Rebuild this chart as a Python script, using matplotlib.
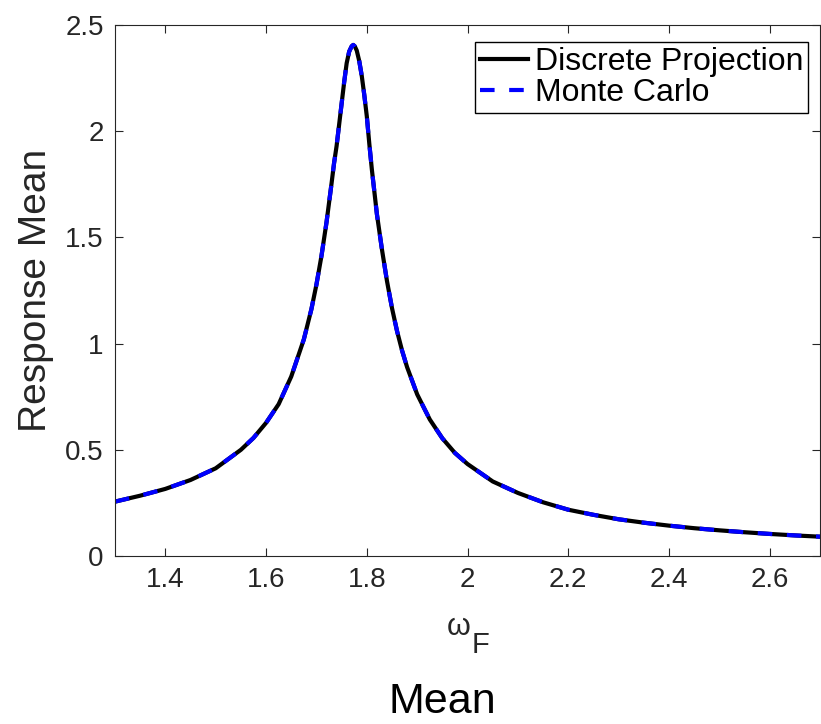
import numpy as np
import matplotlib.pyplot as plt

plt.rcParams['font.family'] = ['Liberation Sans', 'DejaVu Sans']

# values
omega_f = [1.30, 1.35, 1.40, 1.45, 1.50, 1.55, 1.575, 1.60, 1.625, 1.65,
           1.675, 1.69, 1.70, 1.71, 1.72, 1.73, 1.735, 1.74, 1.745, 1.75,
           1.755, 1.76, 1.765, 1.77, 1.773, 1.776, 1.78, 1.785, 1.79, 1.795,
           1.80, 1.805, 1.81, 1.82, 1.83, 1.84, 1.85, 1.86, 1.87, 1.88,
           1.90, 1.925, 1.95, 1.975, 2.00, 2.05, 2.10, 2.15, 2.20, 2.25,
           2.30, 2.35, 2.40, 2.45, 2.50, 2.55, 2.60, 2.65, 2.70]
resp_dp = [0.256, 0.284, 0.316, 0.358, 0.413, 0.500, 0.556, 0.627, 0.715, 0.845,
           1.020, 1.162, 1.278, 1.413, 1.571, 1.754, 1.850, 1.930, 2.030, 2.130,
           2.230, 2.320, 2.375, 2.400, 2.406, 2.400, 2.380, 2.330, 2.260, 2.170,
           2.070, 1.940, 1.820, 1.610, 1.444, 1.295, 1.167, 1.059, 0.967, 0.889,
           0.761, 0.643, 0.554, 0.485, 0.433, 0.351, 0.297, 0.253, 0.218, 0.194,
           0.173, 0.157, 0.143, 0.131, 0.121, 0.112, 0.104, 0.097, 0.091]
resp_mc = list(resp_dp)  # Monte Carlo lies on top of the projection curve

xticks = [1.4, 1.6, 1.8, 2.0, 2.2, 2.4, 2.6]
xtick_labels = ['1.4', '1.6', '1.8', '2', '2.2', '2.4', '2.6']
yticks = [0, 0.5, 1, 1.5, 2, 2.5]
ytick_labels = ['0', '0.5', '1', '1.5', '2', '2.5']

fig = plt.figure(figsize=(8.21, 7.24), dpi=100)
ax = fig.add_axes([0.140, 0.232, 0.859, 0.7335])

ax.plot(omega_f, resp_dp, color='black', lw=3, label='Discrete Projection')
ax.plot(omega_f, resp_mc, color='blue', lw=3, dashes=(3.5, 3.5),
        label='Monte Carlo')

ax.set_xlim(1.3, 2.7)
ax.set_ylim(0, 2.5)
ax.set_xticks(xticks)
ax.set_xticklabels(xtick_labels)
ax.set_yticks(yticks)
ax.set_yticklabels(ytick_labels)

grey = '#262626'
for s in ax.spines.values():
    s.set_color(grey)
    s.set_linewidth(0.8)
ax.tick_params(direction='in', length=5.5, width=0.8, color=grey,
               labelcolor=grey, labelsize=20, top=True, right=True, pad=8)

ax.set_ylabel('Response Mean', fontsize=28, color=grey, labelpad=8)

# x label: omega with a same-size subscript F, placed like the reference
fig.text(447 / 821, 1 - 635 / 724, 'ω', fontsize=22, color=grey,
         ha='left', va='baseline')
fig.text(472 / 821, 1 - 653 / 724, 'F', fontsize=21, color=grey,
         ha='left', va='baseline')

leg = ax.legend(loc='upper right', bbox_to_anchor=(0.9825, 0.968),
                fontsize=23, handlelength=1.5, handletextpad=0.2,
                borderpad=0.15, labelspacing=0.05, borderaxespad=0,
                fancybox=False, framealpha=1)
leg.get_frame().set_edgecolor('black')
leg.get_frame().set_linewidth(1.0)

fig.text(442 / 821, 1 - 713 / 724, 'Mean', fontsize=31, ha='center',
         va='baseline', color='black')

fig.savefig('out.png', dpi=100)
